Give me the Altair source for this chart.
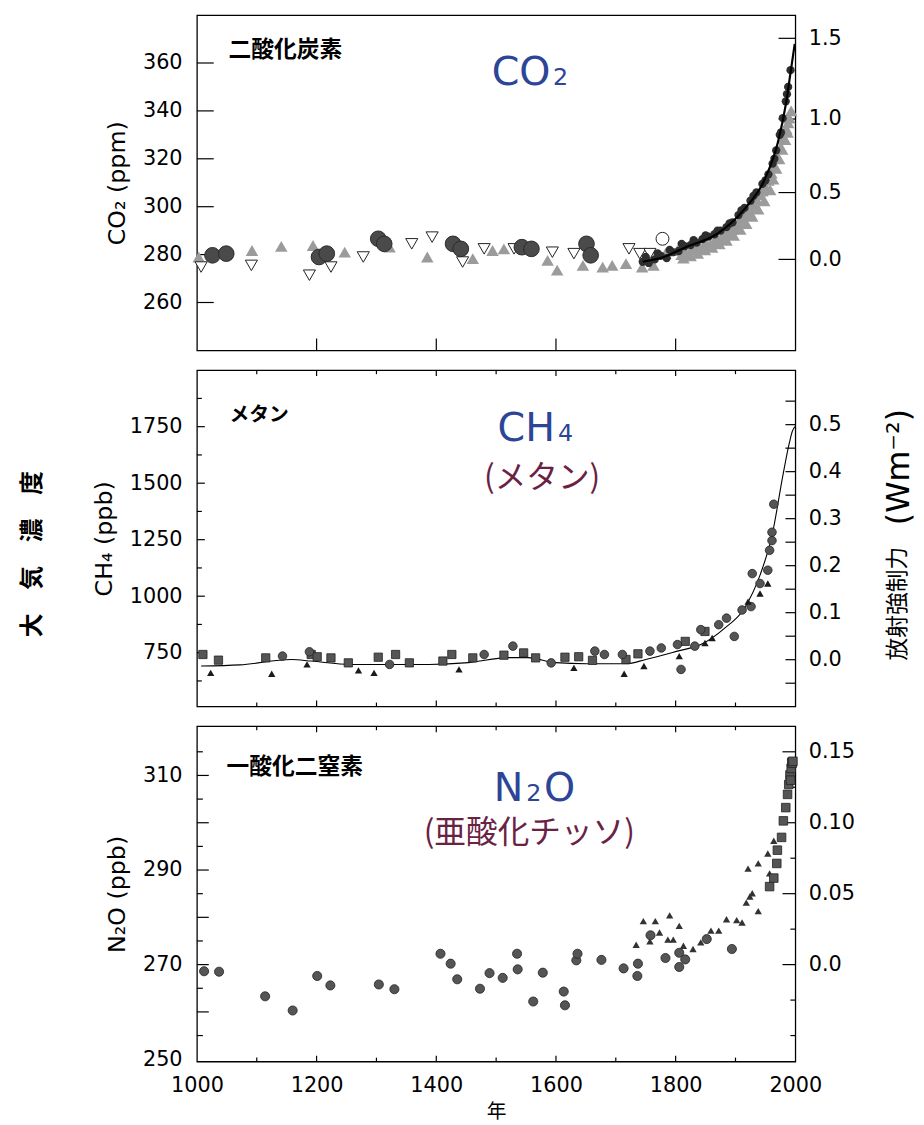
import altair as alt
import pandas as pd

# ---------------- CO2 panel ----------------
co2_tri_year = [1003, 1092, 1141, 1194, 1247, 1322, 1385, 1461, 1494, 1513, 1553, 1586, 1602, 1645,
                1678, 1694, 1717, 1744, 1763, 1783, 1803,
                1810, 1816, 1822, 1828, 1834, 1840, 1846, 1852, 1858, 1864, 1870, 1876, 1882, 1888,
                1894, 1900, 1905, 1910, 1915, 1920, 1925, 1930, 1935, 1940, 1945, 1950, 1955, 1960,
                1965, 1970, 1975, 1980, 1985, 1988,
                1813, 1825, 1837, 1849, 1861, 1873, 1885, 1897, 1908, 1918, 1928, 1938, 1948, 1958,
                1963, 1968, 1973, 1978, 1983, 1987, 1990, 1993]
co2_tri_val = [279.0, 281.7, 283.4, 283.8, 281.0, 283.1, 279.0, 278.3, 281.7, 282.4, 282.4, 277.6, 273.5, 275.5,
               274.8, 275.5, 276.2, 274.8, 275.5, 280.4, 281.7,
               280.0, 281.0, 280.5, 282.0, 282.5, 283.0, 283.5, 284.5, 284.0, 285.5, 286.5, 287.0, 288.5, 289.0,
               290.5, 292.0, 293.5, 295.0, 296.5, 298.0, 299.5, 301.0, 303.0, 305.0, 306.5, 308.5, 311.0, 314.0,
               317.0, 320.5, 324.5, 328.5, 332.5, 335.0,
               278.5, 279.5, 280.5, 282.0, 283.0, 284.5, 286.0, 288.0, 290.5, 293.0, 296.0, 299.0, 302.5, 307.0,
               311.5, 316.0, 320.0, 324.0, 328.0, 331.0, 337.0, 340.0]
co2_inv_year = [1007, 1091, 1188, 1224, 1278, 1359, 1393, 1444, 1480, 1530, 1594, 1630, 1722, 1740, 1757]
co2_inv_val = [274.8, 275.5, 271.4, 274.8, 279.0, 284.5, 287.3, 276.9, 282.4, 282.4, 281.0, 280.4, 282.4, 280.4, 280.4]
co2_circ_year = [1026, 1049, 1204, 1217, 1303, 1313, 1428, 1441, 1543, 1559, 1651, 1658]
co2_circ_val = [279.7, 280.4, 279.0, 280.4, 286.6, 284.5, 284.5, 282.4, 283.1, 282.4, 284.5, 279.7]
co2_dot_year = [1745, 1755, 1765, 1775, 1785, 1795, 1805, 1815, 1825, 1835, 1845, 1855, 1865, 1875, 1885,
                1895, 1905, 1915, 1925, 1935, 1945, 1955, 1962, 1968, 1974, 1979, 1984, 1988, 1992,
                1750, 1770, 1790, 1810, 1830, 1850, 1870, 1890, 1910, 1930, 1950, 1965, 1976, 1986]
co2_dot_val = [277.0, 276.5, 278.0, 279.5, 278.5, 281.0, 281.5, 283.5, 284.0, 285.0, 286.5, 287.5, 288.5, 290.0,
               291.5, 293.5, 296.5, 299.5, 302.5, 306.0, 309.5, 313.5, 318.0, 323.5, 330.0, 337.0, 344.0,
               350.0, 357.0,
               279.0, 280.5, 282.0, 284.5, 286.0, 288.0, 290.0, 293.0, 298.5, 304.5, 311.0, 320.0, 331.0, 347.0]
co2_open_year = [1778]
co2_open_val = [286.6]
co2_fit_year = [1745, 1780, 1816, 1869, 1915, 1948, 1971, 1985, 1992, 1999]
co2_fit_val = [277.0, 279.0, 283.0, 288.6, 299.0, 311.0, 327.0, 344.0, 356.0, 368.0]
co2_ticks = [260, 280, 300, 320, 340, 360]
co2_rf_labels = ["0.0", "0.5", "1.0", "1.5"]
co2_rf_pos = [278.0, 305.9, 336.6, 370.3]
co2_x_ticks = [1200, 1400, 1600, 1800]

# ---------------- CH4 panel ----------------
ch4_sq_year = [1010, 1036, 1115, 1191, 1201, 1224, 1253, 1303, 1332, 1355, 1411, 1426, 1461, 1513, 1546,
               1566, 1615, 1638, 1661, 1717, 1737, 1816, 1849]
ch4_sq_val = [742, 717, 727, 742, 732, 727, 705, 730, 742, 705, 713, 742, 727, 739, 749,
              727, 730, 732, 716, 720, 745, 800, 844]
ch4_circ_year = [1143, 1188, 1322, 1480, 1528, 1592, 1665, 1681, 1711, 1757, 1776, 1809, 1803, 1832, 1842,
                 1872, 1885, 1898, 1911, 1926, 1928, 1941, 1954, 1957, 1961, 1961, 1964]
ch4_circ_val = [735, 754, 698, 742, 779, 705, 757, 742, 742, 757, 771, 676, 786, 779, 852,
                874, 903, 822, 939, 954, 1100, 1056, 1115, 1203, 1246, 1283, 1407]
ch4_tri_year = [1023, 1125, 1184, 1270, 1296, 1438, 1630, 1714, 1747, 1806, 1849, 1861, 1921, 1941, 1954]
ch4_tri_val = [661, 657, 698, 672, 661, 676, 683, 657, 691, 735, 793, 815, 976, 1012, 1056]
ch4_fit_year = [1007, 1072, 1158, 1191, 1257, 1322, 1388, 1454, 1520, 1553, 1599, 1651, 1717, 1750,
                1803, 1842, 1882, 1915, 1941, 1961, 1980, 1990, 1995, 2000]
ch4_fit_val = [691, 696, 720, 713, 698, 698, 698, 706, 728, 728, 706, 701, 701, 720,
               757, 786, 859, 947, 1093, 1268, 1546, 1678, 1730, 1751]
ch4_major = [750, 1000, 1250, 1500, 1750]
ch4_minor = [625, 875, 1125, 1375, 1625, 1875]
ch4_rf_labels = ["0.0", "0.1", "0.2", "0.3", "0.4", "0.5"]
ch4_rf_pos = [719, 927, 1135, 1343, 1551, 1759]
ch4_rf_minor = [615, 823, 1031, 1239, 1447, 1655, 1863]

# ---------------- N2O panel ----------------
n2o_circ_year = [1012, 1037, 1114, 1160, 1201, 1223, 1304, 1330, 1407, 1424, 1435, 1473, 1489, 1511, 1535,
                 1536, 1562, 1578, 1613, 1615, 1634, 1636, 1676, 1713, 1737, 1736, 1758, 1783, 1806, 1806,
                 1816, 1852, 1894]
n2o_circ_val = [268.6, 268.5, 263.3, 260.3, 267.6, 265.6, 265.8, 264.8, 272.3, 270.2, 266.9, 264.9, 268.2,
                267.2, 272.3, 269.0, 262.2, 268.3, 264.3, 261.4, 270.9, 272.3, 271.0, 269.2, 270.2, 267.6,
                276.2, 271.4, 269.5, 272.5, 271.1, 275.4, 273.3]
n2o_tri_year = [1734, 1746, 1766, 1790, 1773, 1757, 1787, 1796, 1806, 1813, 1829, 1842, 1859, 1872, 1885,
                1902, 1911, 1918, 1924, 1928, 1938, 1921, 1938, 1954, 1957, 1964]
n2o_tri_val = [274.2, 279.2, 279.2, 280.4, 276.8, 274.9, 275.3, 275.3, 278.2, 274.0, 273.3, 274.7, 277.2,
               277.2, 279.6, 279.4, 278.9, 283.1, 284.4, 285.1, 281.3, 290.3, 291.4, 293.5, 289.3, 296.2]
n2o_sq_year = [1957, 1964, 1969, 1970, 1977, 1980, 1984, 1987, 1989, 1991, 1992, 1993, 1994, 1995, 1996]
n2o_sq_val = [286.5, 288.3, 291.4, 294.2, 296.9, 300.4, 303.2, 306.0, 308.1, 310.1, 309.0, 311.5, 312.8,
              312.6, 313.0]
n2o_major = [260, 270, 280, 290, 300, 310]
n2o_minor = [255, 265, 275, 285, 295, 305, 315]
n2o_labels = [250, 270, 290, 310]
n2o_rf_labels = ["0.0", "0.05", "0.10", "0.15"]
n2o_rf_pos = [270.0, 285.0, 300.0, 315.0]
n2o_rf_minor = [255.0, 262.5, 277.5, 292.5, 307.5]

x_major = [1200, 1400, 1600, 1800]
x_minor = [1100, 1300, 1500, 1700, 1900]
x_labels = [1000, 1200, 1400, 1600, 1800, 2000]

W = 605
H1, H2, H3 = 339, 340, 339
XS = alt.Scale(domain=[1000, 2000], nice=False, zero=False)
CJK = "Noto Sans CJK JP"
LAT = "DejaVu Sans"
BLUE = "#2c4596"
MAROON = "#6a2244"


def ys(dom):
    return alt.Scale(domain=dom, nice=False, zero=False)


def df(years, vals):
    return pd.DataFrame({"year": years, "v": vals})


def pts(years, vals, dom, xax, **mk):
    return alt.Chart(df(years, vals)).mark_point(**mk).encode(
        x=alt.X("year:Q", scale=XS, axis=xax),
        y=alt.Y("v:Q", scale=ys(dom), axis=None))


def fitline(years, vals, dom, xax, width):
    return alt.Chart(df(years, vals)).mark_line(color="black", strokeWidth=width, interpolate="monotone").encode(
        x=alt.X("year:Q", scale=XS, axis=xax),
        y=alt.Y("v:Q", scale=ys(dom), axis=None))


def yticks(vals, dom, x0, x1, axis=None):
    return alt.Chart(pd.DataFrame({"v": vals})).mark_rule(color="black", strokeWidth=1.2).encode(
        y=alt.Y("v:Q", scale=ys(dom), axis=axis), x=alt.value(x0), x2=alt.value(x1))


def xticks(vals, y0, y1, xax):
    return alt.Chart(pd.DataFrame({"year": vals})).mark_rule(color="black", strokeWidth=1.2).encode(
        x=alt.X("year:Q", scale=XS, axis=xax), y=alt.value(y0), y2=alt.value(y1))


def txt(label, x, y, size, font=CJK, color="black", weight="normal", align="left",
        baseline="middle", angle=0):
    return alt.Chart(pd.DataFrame({"t": [label]})).mark_text(
        align=align, baseline=baseline, fontSize=size, font=font, color=color,
        fontWeight=weight, angle=angle).encode(x=alt.value(x), y=alt.value(y), text="t:N")


def label_expr(pos, labels):
    parts = [f"abs(datum.value - {p}) < 0.01 ? '{l}'" for p, l in zip(pos, labels)]
    return " : ".join(parts) + " : ''"


def left_axis(values, title, fmt="d"):
    return alt.Axis(orient="left", values=values, title=title, ticks=False, domain=False,
                    labelPadding=15, titlePadding=13, format=fmt)


def right_axis(pos, labels):
    return alt.Axis(orient="right", values=pos, labelExpr=label_expr(pos, labels), title=None,
                    ticks=False, domain=False, labelPadding=13)


# ---- panel 1 ----
D1 = [240.0, 380.0]
X1 = None
p1 = alt.layer(
    yticks(co2_ticks, D1, 0, 17, left_axis(co2_ticks, "CO₂  (ppm)")),
    yticks(co2_rf_pos, D1, W - 17, W, right_axis(co2_rf_pos, co2_rf_labels)),
    xticks(co2_x_ticks, H1, H1 - 12, X1),
    pts(co2_tri_year, co2_tri_val, D1, X1, shape="triangle-up", filled=True, color="#9b9b9b",
        size=160, opacity=1),
    pts(co2_inv_year, co2_inv_val, D1, X1, shape="triangle-down", filled=True, fill="white",
        stroke="#222222", strokeWidth=1, size=150, opacity=1),
    pts(co2_circ_year, co2_circ_val, D1, X1, shape="circle", filled=True, fill="#4a4a4a",
        stroke="#2a2a2a", strokeWidth=1, size=250, opacity=1),
    pts(co2_dot_year, co2_dot_val, D1, X1, shape="circle", filled=True, color="#2e2e2e",
        size=70, opacity=1),
    pts(co2_open_year, co2_open_val, D1, X1, shape="circle", filled=True, fill="white",
        stroke="#222222", strokeWidth=1, size=170, opacity=1),
    fitline(co2_fit_year, co2_fit_val, D1, X1, 2.2),
    txt("二酸化炭素", 32, 35, 23, weight="bold"),
    txt("CO", 298, 71, 40, font=LAT, color=BLUE, baseline="alphabetic"),
    txt("2", 360, 71, 24, font=LAT, color=BLUE, baseline="alphabetic"),
).resolve_scale(y="independent").properties(width=W, height=H1)

# ---- panel 2 ----
D2 = [512, 2000]
X2 = None
p2 = alt.layer(
    yticks(ch4_major, D2, 0, 8, left_axis(ch4_major, "CH₄  (ppb)")),
    yticks(ch4_minor, D2, 0, 5),
    yticks(ch4_rf_pos, D2, W - 10, W, right_axis(ch4_rf_pos, ch4_rf_labels)),
    yticks(ch4_rf_minor, D2, W - 10, W),
    xticks(x_major, H2, H2 - 6, X2),
    xticks(x_minor, H2, H2 - 4, X2),
    xticks(x_major, 0, 6, X2),
    xticks(x_minor, 0, 4, X2),
    fitline(ch4_fit_year, ch4_fit_val, D2, X2, 1.1),
    pts(ch4_sq_year, ch4_sq_val, D2, X2, shape="square", filled=True, fill="#555555",
        stroke="#222222", strokeWidth=0.8, size=70, opacity=1),
    pts(ch4_circ_year, ch4_circ_val, D2, X2, shape="circle", filled=True, fill="#555555",
        stroke="#222222", strokeWidth=0.8, size=75, opacity=1),
    pts(ch4_tri_year, ch4_tri_val, D2, X2, shape="triangle-up", filled=True, color="#1a1a1a",
        size=55, opacity=1),
    txt("メタン", 33, 45, 20, weight="bold"),
    txt("CH", 304, 72, 40, font=LAT, color=BLUE, baseline="alphabetic"),
    txt("4", 365, 72, 24, font=LAT, color=BLUE, baseline="alphabetic"),
    txt("(メタン)", 349, 109, 32, color=MAROON, align="center"),
    txt("大　気　濃　度", -166, 186, 24, weight="bold", align="center", angle=270),
    txt("放射強制力", W + 104, 236, 23, align="center", angle=270),
    txt("(Wm⁻²)", W + 105, 98, 32, font=LAT, align="center", angle=270),
).resolve_scale(y="independent").properties(width=W, height=H2)

# ---- panel 3 ----
D3 = [249.5, 320.4]
X3 = alt.Axis(values=x_labels, format="d", title="年", ticks=False, domain=False, labelPadding=13,
              titlePadding=7, titleFont=CJK, titleFontSize=20, labelFlush=False)
p3 = alt.layer(
    yticks(n2o_major, D3, 0, 12, left_axis(n2o_labels, "N₂O  (ppb)")),
    yticks(n2o_minor, D3, 0, 6),
    yticks(n2o_rf_pos, D3, W - 13, W, right_axis(n2o_rf_pos, n2o_rf_labels)),
    yticks(n2o_rf_minor, D3, W - 5, W),
    xticks(x_major, H3, H3 - 6, X3),
    xticks(x_minor, H3, H3 - 4, X3),
    xticks(x_major, 0, 6, X3),
    xticks(x_minor, 0, 4, X3),
    pts(n2o_circ_year, n2o_circ_val, D3, X3, shape="circle", filled=True, fill="#555555",
        stroke="#222222", strokeWidth=0.8, size=85, opacity=1),
    pts(n2o_tri_year, n2o_tri_val, D3, X3, shape="triangle-up", filled=True, color="#333333",
        size=55, opacity=1),
    pts(n2o_sq_year, n2o_sq_val, D3, X3, shape="square", filled=True, fill="#555555",
        stroke="#222222", strokeWidth=0.8, size=75, opacity=1),
    txt("一酸化二窒素", 30, 41, 23, weight="bold"),
    txt("N", 300, 76, 40, font=LAT, color=BLUE, baseline="alphabetic"),
    txt("2", 333, 76, 24, font=LAT, color=BLUE, baseline="alphabetic"),
    txt("O", 351, 76, 40, font=LAT, color=BLUE, baseline="alphabetic"),
    txt("(亜酸化チッソ)", 336, 108, 32, color=MAROON, align="center"),
).resolve_scale(y="independent").properties(width=W, height=H3)

chart = alt.vconcat(p1, p2, p3, spacing=16).configure_view(
    stroke="black", strokeWidth=1.3
).configure_axis(
    grid=False, labelFont=LAT, labelFontSize=21, labelColor="black",
    titleFont=LAT, titleFontSize=24, titleFontWeight="normal", titleColor="black"
).properties(padding={"left": 12, "top": 0, "right": 0, "bottom": 0}, background="white")

chart.save("out.html", embed_options={"renderer": "svg", "actions": False})
